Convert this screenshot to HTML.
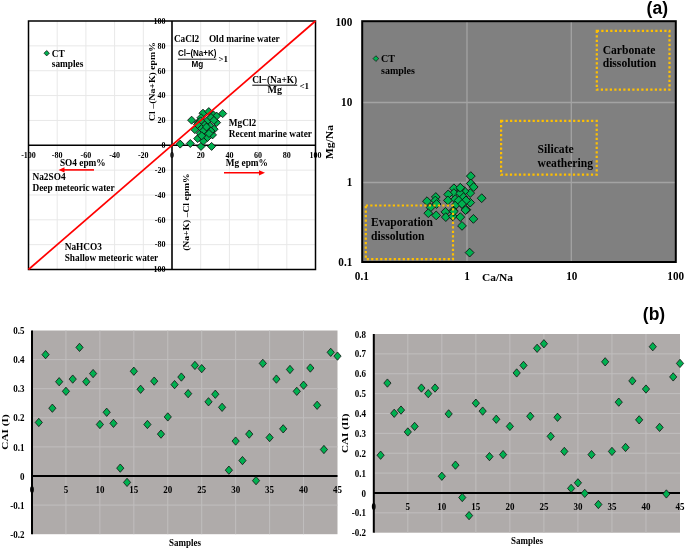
<!DOCTYPE html>
<html><head><meta charset="utf-8"><title>Figure</title>
<style>
html,body{margin:0;padding:0;background:#fff;}
body{width:685px;height:549px;overflow:hidden;}
svg{display:block;filter:blur(0.3px);}
text{font-family:'Liberation Serif',serif;}
</style></head>
<body>
<svg width="685" height="549" viewBox="0 0 685 549">
<rect x="0" y="0" width="685" height="549" fill="#fff"/>
<line x1="57.2" y1="21.0" x2="57.2" y2="269.5" stroke="#e8e8e8" stroke-width="1"/>
<line x1="28.5" y1="244.66" x2="315.5" y2="244.66" stroke="#e8e8e8" stroke-width="1"/>
<line x1="85.9" y1="21.0" x2="85.9" y2="269.5" stroke="#e8e8e8" stroke-width="1"/>
<line x1="28.5" y1="219.82" x2="315.5" y2="219.82" stroke="#e8e8e8" stroke-width="1"/>
<line x1="114.6" y1="21.0" x2="114.6" y2="269.5" stroke="#e8e8e8" stroke-width="1"/>
<line x1="28.5" y1="194.98" x2="315.5" y2="194.98" stroke="#e8e8e8" stroke-width="1"/>
<line x1="143.3" y1="21.0" x2="143.3" y2="269.5" stroke="#e8e8e8" stroke-width="1"/>
<line x1="28.5" y1="170.14" x2="315.5" y2="170.14" stroke="#e8e8e8" stroke-width="1"/>
<line x1="200.7" y1="21.0" x2="200.7" y2="269.5" stroke="#e8e8e8" stroke-width="1"/>
<line x1="28.5" y1="120.44" x2="315.5" y2="120.44" stroke="#e8e8e8" stroke-width="1"/>
<line x1="229.4" y1="21.0" x2="229.4" y2="269.5" stroke="#e8e8e8" stroke-width="1"/>
<line x1="28.5" y1="95.58" x2="315.5" y2="95.58" stroke="#e8e8e8" stroke-width="1"/>
<line x1="258.1" y1="21.0" x2="258.1" y2="269.5" stroke="#e8e8e8" stroke-width="1"/>
<line x1="28.5" y1="70.72" x2="315.5" y2="70.72" stroke="#e8e8e8" stroke-width="1"/>
<line x1="286.8" y1="21.0" x2="286.8" y2="269.5" stroke="#e8e8e8" stroke-width="1"/>
<line x1="28.5" y1="45.86" x2="315.5" y2="45.86" stroke="#e8e8e8" stroke-width="1"/>
<rect x="28.5" y="21.0" width="287.0" height="248.5" fill="none" stroke="#000" stroke-width="1.5"/>
<line x1="172.0" y1="21.0" x2="172.0" y2="269.5" stroke="#000" stroke-width="1.6"/>
<line x1="28.5" y1="145.3" x2="315.5" y2="145.3" stroke="#000" stroke-width="1.6"/>
<text x="165.5" y="23.8" font-size="8" text-anchor="end" fill="#000" style="font-family:'Liberation Serif',serif;font-weight:bold">100</text>
<text x="165.5" y="48.66" font-size="8" text-anchor="end" fill="#000" style="font-family:'Liberation Serif',serif;font-weight:bold">80</text>
<text x="165.5" y="73.52" font-size="8" text-anchor="end" fill="#000" style="font-family:'Liberation Serif',serif;font-weight:bold">60</text>
<text x="165.5" y="98.38" font-size="8" text-anchor="end" fill="#000" style="font-family:'Liberation Serif',serif;font-weight:bold">40</text>
<text x="165.5" y="123.24" font-size="8" text-anchor="end" fill="#000" style="font-family:'Liberation Serif',serif;font-weight:bold">20</text>
<text x="165.5" y="148.1" font-size="8" text-anchor="end" fill="#000" style="font-family:'Liberation Serif',serif;font-weight:bold">0</text>
<text x="165.5" y="172.94" font-size="8" text-anchor="end" fill="#000" style="font-family:'Liberation Serif',serif;font-weight:bold">-20</text>
<text x="165.5" y="197.78" font-size="8" text-anchor="end" fill="#000" style="font-family:'Liberation Serif',serif;font-weight:bold">-40</text>
<text x="165.5" y="222.62" font-size="8" text-anchor="end" fill="#000" style="font-family:'Liberation Serif',serif;font-weight:bold">-60</text>
<text x="165.5" y="247.46" font-size="8" text-anchor="end" fill="#000" style="font-family:'Liberation Serif',serif;font-weight:bold">-80</text>
<text x="165.5" y="272.3" font-size="8" text-anchor="end" fill="#000" style="font-family:'Liberation Serif',serif;font-weight:bold">-100</text>
<text x="28.5" y="157.6" font-size="8" text-anchor="middle" fill="#000" style="font-family:'Liberation Serif',serif;font-weight:bold">-100</text>
<text x="57.2" y="157.6" font-size="8" text-anchor="middle" fill="#000" style="font-family:'Liberation Serif',serif;font-weight:bold">-80</text>
<text x="85.9" y="157.6" font-size="8" text-anchor="middle" fill="#000" style="font-family:'Liberation Serif',serif;font-weight:bold">-60</text>
<text x="114.6" y="157.6" font-size="8" text-anchor="middle" fill="#000" style="font-family:'Liberation Serif',serif;font-weight:bold">-40</text>
<text x="143.3" y="157.6" font-size="8" text-anchor="middle" fill="#000" style="font-family:'Liberation Serif',serif;font-weight:bold">-20</text>
<text x="172" y="157.6" font-size="8" text-anchor="middle" fill="#000" style="font-family:'Liberation Serif',serif;font-weight:bold">0</text>
<text x="200.7" y="157.6" font-size="8" text-anchor="middle" fill="#000" style="font-family:'Liberation Serif',serif;font-weight:bold">20</text>
<text x="229.4" y="157.6" font-size="8" text-anchor="middle" fill="#000" style="font-family:'Liberation Serif',serif;font-weight:bold">40</text>
<text x="258.1" y="157.6" font-size="8" text-anchor="middle" fill="#000" style="font-family:'Liberation Serif',serif;font-weight:bold">60</text>
<text x="286.8" y="157.6" font-size="8" text-anchor="middle" fill="#000" style="font-family:'Liberation Serif',serif;font-weight:bold">80</text>
<text x="315.5" y="157.6" font-size="8" text-anchor="middle" fill="#000" style="font-family:'Liberation Serif',serif;font-weight:bold">100</text>
<polygon points="191.6,116.2 195.6,120.2 191.6,124.2 187.6,120.2" fill="#00b050" stroke="#111" stroke-width="0.9"/>
<polygon points="190.3,139.5 194.3,143.5 190.3,147.5 186.3,143.5" fill="#00b050" stroke="#111" stroke-width="0.9"/>
<polygon points="201,142.4 205,146.4 201,150.4 197,146.4" fill="#00b050" stroke="#111" stroke-width="0.9"/>
<polygon points="211.6,142.4 215.6,146.4 211.6,150.4 207.6,146.4" fill="#00b050" stroke="#111" stroke-width="0.9"/>
<polygon points="203.4,137.1 207.4,141.1 203.4,145.1 199.4,141.1" fill="#00b050" stroke="#111" stroke-width="0.9"/>
<polygon points="197.7,134.6 201.7,138.6 197.7,142.6 193.7,138.6" fill="#00b050" stroke="#111" stroke-width="0.9"/>
<polygon points="194.8,125.6 198.8,129.6 194.8,133.6 190.8,129.6" fill="#00b050" stroke="#111" stroke-width="0.9"/>
<polygon points="200.2,129.3 204.2,133.3 200.2,137.3 196.2,133.3" fill="#00b050" stroke="#111" stroke-width="0.9"/>
<polygon points="205.9,130.1 209.9,134.1 205.9,138.1 201.9,134.1" fill="#00b050" stroke="#111" stroke-width="0.9"/>
<polygon points="212.5,130.9 216.5,134.9 212.5,138.9 208.5,134.9" fill="#00b050" stroke="#111" stroke-width="0.9"/>
<polygon points="214.1,125.2 218.1,129.2 214.1,133.2 210.1,129.2" fill="#00b050" stroke="#111" stroke-width="0.9"/>
<polygon points="209.6,121.5 213.6,125.5 209.6,129.5 205.6,125.5" fill="#00b050" stroke="#111" stroke-width="0.9"/>
<polygon points="204.7,120.7 208.7,124.7 204.7,128.7 200.7,124.7" fill="#00b050" stroke="#111" stroke-width="0.9"/>
<polygon points="201.4,124.4 205.4,128.4 201.4,132.4 197.4,128.4" fill="#00b050" stroke="#111" stroke-width="0.9"/>
<polygon points="208,116.2 212,120.2 208,124.2 204,120.2" fill="#00b050" stroke="#111" stroke-width="0.9"/>
<polygon points="216.6,118.6 220.6,122.6 216.6,126.6 212.6,122.6" fill="#00b050" stroke="#111" stroke-width="0.9"/>
<polygon points="213.3,110.8 217.3,114.8 213.3,118.8 209.3,114.8" fill="#00b050" stroke="#111" stroke-width="0.9"/>
<polygon points="222.7,109.6 226.7,113.6 222.7,117.6 218.7,113.6" fill="#00b050" stroke="#111" stroke-width="0.9"/>
<polygon points="203,109.2 207,113.2 203,117.2 199,113.2" fill="#00b050" stroke="#111" stroke-width="0.9"/>
<polygon points="208.8,107.6 212.8,111.6 208.8,115.6 204.8,111.6" fill="#00b050" stroke="#111" stroke-width="0.9"/>
<polygon points="216.6,112.1 220.6,116.1 216.6,120.1 212.6,116.1" fill="#00b050" stroke="#111" stroke-width="0.9"/>
<polygon points="201,113.7 205,117.7 201,121.7 197,117.7" fill="#00b050" stroke="#111" stroke-width="0.9"/>
<polygon points="206.3,125.6 210.3,129.6 206.3,133.6 202.3,129.6" fill="#00b050" stroke="#111" stroke-width="0.9"/>
<polygon points="180.2,140.1 184.2,144.1 180.2,148.1 176.2,144.1" fill="#00b050" stroke="#111" stroke-width="0.9"/>
<polygon points="210.9,127 214.9,131 210.9,135 206.9,131" fill="#00b050" stroke="#111" stroke-width="0.9"/>
<polygon points="207.5,133.5 211.5,137.5 207.5,141.5 203.5,137.5" fill="#00b050" stroke="#111" stroke-width="0.9"/>
<polygon points="198,118.5 202,122.5 198,126.5 194,122.5" fill="#00b050" stroke="#111" stroke-width="0.9"/>
<polygon points="211,113.5 215,117.5 211,121.5 207,117.5" fill="#00b050" stroke="#111" stroke-width="0.9"/>
<polygon points="200.6,116.9 204.6,120.9 200.6,124.9 196.6,120.9" fill="#00b050" stroke="#111" stroke-width="0.9"/>
<polygon points="213.9,116.4 217.9,120.4 213.9,124.4 209.9,120.4" fill="#00b050" stroke="#111" stroke-width="0.9"/>
<polygon points="203.7,126.6 207.7,130.6 203.7,134.6 199.7,130.6" fill="#00b050" stroke="#111" stroke-width="0.9"/>
<polygon points="201.7,131.8 205.7,135.8 201.7,139.8 197.7,135.8" fill="#00b050" stroke="#111" stroke-width="0.9"/>
<polygon points="197.6,120.5 201.6,124.5 197.6,128.5 193.6,124.5" fill="#00b050" stroke="#111" stroke-width="0.9"/>
<polygon points="206.5,123 210.5,127 206.5,131 202.5,127" fill="#00b050" stroke="#111" stroke-width="0.9"/>
<polygon points="209,129.5 213,133.5 209,137.5 205,133.5" fill="#00b050" stroke="#111" stroke-width="0.9"/>
<line x1="28.5" y1="269.5" x2="315.5" y2="21.0" stroke="#ff0000" stroke-width="1.7"/>
<polygon points="46.7,50.5 49.4,53.2 46.7,55.9 44,53.2" fill="#00b050" stroke="#1a1a1a" stroke-width="0.8"/>
<text x="51.8" y="56.6" font-size="9.3" text-anchor="start" fill="#000" style="font-family:'Liberation Serif',serif;font-weight:bold">CT</text>
<text x="51.8" y="66.8" font-size="9.3" text-anchor="start" fill="#000" style="font-family:'Liberation Serif',serif;font-weight:bold">samples</text>
<text x="173.9" y="42" font-size="9.3" text-anchor="start" fill="#000" style="font-family:'Liberation Serif',serif;font-weight:bold">CaCl2</text>
<text x="208.9" y="42" font-size="9.3" text-anchor="start" fill="#000" style="font-family:'Liberation Serif',serif;font-weight:bold">Old marine water</text>
<text x="197.2" y="56.2" font-size="8.2" text-anchor="middle" fill="#000" style="font-family:'Liberation Sans',sans-serif;font-weight:bold" textLength="38.5" lengthAdjust="spacingAndGlyphs">Cl–(Na+K)</text>
<line x1="177.9" y1="59.2" x2="216.4" y2="59.2" stroke="#000" stroke-width="0.9"/>
<text x="197.4" y="66.6" font-size="8.2" text-anchor="middle" fill="#000" style="font-family:'Liberation Sans',sans-serif;font-weight:bold">Mg</text>
<text x="218.4" y="62" font-size="9" text-anchor="start" fill="#000" style="font-family:'Liberation Serif',serif;font-weight:bold">&gt;1</text>
<text x="274.7" y="82.9" font-size="10" text-anchor="middle" fill="#000" style="font-family:'Liberation Serif',serif;font-weight:bold" textLength="45" lengthAdjust="spacingAndGlyphs">Cl−(Na+K)</text>
<line x1="252.3" y1="85.2" x2="297.2" y2="85.2" stroke="#000" stroke-width="1"/>
<text x="274.7" y="93.2" font-size="10" text-anchor="middle" fill="#000" style="font-family:'Liberation Serif',serif;font-weight:bold">Mg</text>
<text x="299.4" y="89" font-size="9" text-anchor="start" fill="#000" style="font-family:'Liberation Serif',serif;font-weight:bold">&lt;1</text>
<text x="228.8" y="126.4" font-size="9.3" text-anchor="start" fill="#000" style="font-family:'Liberation Serif',serif;font-weight:bold">MgCl2</text>
<text x="228.8" y="137.4" font-size="9.3" text-anchor="start" fill="#000" style="font-family:'Liberation Serif',serif;font-weight:bold">Recent marine water</text>
<text x="59.9" y="165.7" font-size="9.3" text-anchor="start" fill="#000" style="font-family:'Liberation Serif',serif;font-weight:bold">SO4 epm%</text>
<text x="225.8" y="166" font-size="9.3" text-anchor="start" fill="#000" style="font-family:'Liberation Serif',serif;font-weight:bold">Mg epm%</text>
<line x1="94" y1="169.9" x2="63" y2="169.9" stroke="#ff0000" stroke-width="1.6"/>
<polygon points="58.5,169.9 64.5,167.3 64.5,172.5" fill="#ff0000"/>
<line x1="224" y1="172.8" x2="260" y2="172.8" stroke="#ff0000" stroke-width="1.6"/>
<polygon points="265,172.8 259,170.2 259,175.4" fill="#ff0000"/>
<text x="32.5" y="179.8" font-size="9.3" text-anchor="start" fill="#000" style="font-family:'Liberation Serif',serif;font-weight:bold">Na2SO4</text>
<text x="32.5" y="191" font-size="9.3" text-anchor="start" fill="#000" style="font-family:'Liberation Serif',serif;font-weight:bold">Deep meteoric water</text>
<text x="64.7" y="250.2" font-size="9.3" text-anchor="start" fill="#000" style="font-family:'Liberation Serif',serif;font-weight:bold">NaHCO3</text>
<text x="64.7" y="260.7" font-size="9.3" text-anchor="start" fill="#000" style="font-family:'Liberation Serif',serif;font-weight:bold">Shallow meteoric water</text>
<text transform="translate(154.8,81.5) rotate(-90) scale(1.18,1)" font-size="8.3" text-anchor="middle" style="font-family:'Liberation Serif',serif;font-weight:bold">Cl –(Na+K) epm%</text>
<text transform="translate(188.6,212.1) rotate(-90) scale(1.16,1)" font-size="8.3" text-anchor="middle" style="font-family:'Liberation Serif',serif;font-weight:bold">(Na+K) –Cl epm%</text>
<rect x="362.2" y="21.2" width="313.6" height="240.8" fill="#808080"/>
<line x1="467.0" y1="22" x2="467.0" y2="261.5" stroke="#a3a3a3" stroke-width="1.3"/>
<line x1="571.3" y1="22" x2="571.3" y2="261.5" stroke="#a3a3a3" stroke-width="1.3"/>
<line x1="363" y1="102.5" x2="675" y2="102.5" stroke="#a3a3a3" stroke-width="1.3"/>
<line x1="363" y1="182.5" x2="675" y2="182.5" stroke="#a3a3a3" stroke-width="1.3"/>
<polygon points="470.8,171.7 475.2,176.1 470.8,180.5 466.4,176.1" fill="#00b050" stroke="#111" stroke-width="0.9"/>
<polygon points="470.8,179.1 475.2,183.5 470.8,187.9 466.4,183.5" fill="#00b050" stroke="#111" stroke-width="0.9"/>
<polygon points="473.7,182.6 478.1,187 473.7,191.4 469.3,187" fill="#00b050" stroke="#111" stroke-width="0.9"/>
<polygon points="481.7,193.8 486.1,198.2 481.7,202.6 477.3,198.2" fill="#00b050" stroke="#111" stroke-width="0.9"/>
<polygon points="470.2,188.7 474.6,193.1 470.2,197.5 465.8,193.1" fill="#00b050" stroke="#111" stroke-width="0.9"/>
<polygon points="464.5,186.8 468.9,191.2 464.5,195.6 460.1,191.2" fill="#00b050" stroke="#111" stroke-width="0.9"/>
<polygon points="460,184.5 464.4,188.9 460,193.3 455.6,188.9" fill="#00b050" stroke="#111" stroke-width="0.9"/>
<polygon points="453.9,183.9 458.3,188.3 453.9,192.7 449.5,188.3" fill="#00b050" stroke="#111" stroke-width="0.9"/>
<polygon points="453.9,188.7 458.3,193.1 453.9,197.5 449.5,193.1" fill="#00b050" stroke="#111" stroke-width="0.9"/>
<polygon points="448.2,190 452.6,194.4 448.2,198.8 443.8,194.4" fill="#00b050" stroke="#111" stroke-width="0.9"/>
<polygon points="447.9,196 452.3,200.4 447.9,204.8 443.5,200.4" fill="#00b050" stroke="#111" stroke-width="0.9"/>
<polygon points="455.2,194.7 459.6,199.1 455.2,203.5 450.8,199.1" fill="#00b050" stroke="#111" stroke-width="0.9"/>
<polygon points="460.3,189 464.7,193.4 460.3,197.8 455.9,193.4" fill="#00b050" stroke="#111" stroke-width="0.9"/>
<polygon points="463.5,192.8 467.9,197.2 463.5,201.6 459.1,197.2" fill="#00b050" stroke="#111" stroke-width="0.9"/>
<polygon points="470.2,198.2 474.6,202.6 470.2,207 465.8,202.6" fill="#00b050" stroke="#111" stroke-width="0.9"/>
<polygon points="461.9,199.5 466.3,203.9 461.9,208.3 457.5,203.9" fill="#00b050" stroke="#111" stroke-width="0.9"/>
<polygon points="466.4,205.3 470.8,209.7 466.4,214.1 462,209.7" fill="#00b050" stroke="#111" stroke-width="0.9"/>
<polygon points="456.2,200.2 460.6,204.6 456.2,209 451.8,204.6" fill="#00b050" stroke="#111" stroke-width="0.9"/>
<polygon points="458.7,196 463.1,200.4 458.7,204.8 454.3,200.4" fill="#00b050" stroke="#111" stroke-width="0.9"/>
<polygon points="466,196 470.4,200.4 466,204.8 461.6,200.4" fill="#00b050" stroke="#111" stroke-width="0.9"/>
<polygon points="453.3,206.2 457.7,210.6 453.3,215 448.9,210.6" fill="#00b050" stroke="#111" stroke-width="0.9"/>
<polygon points="460.3,183.3 464.7,187.7 460.3,192.1 455.9,187.7" fill="#00b050" stroke="#111" stroke-width="0.9"/>
<polygon points="427,196.8 431.4,201.2 427,205.6 422.6,201.2" fill="#00b050" stroke="#111" stroke-width="0.9"/>
<polygon points="435.8,192.6 440.2,197 435.8,201.4 431.4,197" fill="#00b050" stroke="#111" stroke-width="0.9"/>
<polygon points="435.3,196.1 439.7,200.5 435.3,204.9 430.9,200.5" fill="#00b050" stroke="#111" stroke-width="0.9"/>
<polygon points="436.6,199.6 441,204 436.6,208.4 432.2,204" fill="#00b050" stroke="#111" stroke-width="0.9"/>
<polygon points="430.5,203.1 434.9,207.5 430.5,211.9 426.1,207.5" fill="#00b050" stroke="#111" stroke-width="0.9"/>
<polygon points="428.3,208.8 432.7,213.2 428.3,217.6 423.9,213.2" fill="#00b050" stroke="#111" stroke-width="0.9"/>
<polygon points="436.2,211 440.6,215.4 436.2,219.8 431.8,215.4" fill="#00b050" stroke="#111" stroke-width="0.9"/>
<polygon points="445.4,207.5 449.8,211.9 445.4,216.3 441,211.9" fill="#00b050" stroke="#111" stroke-width="0.9"/>
<polygon points="445.8,212.7 450.2,217.1 445.8,221.5 441.4,217.1" fill="#00b050" stroke="#111" stroke-width="0.9"/>
<polygon points="452.8,211.9 457.2,216.3 452.8,220.7 448.4,216.3" fill="#00b050" stroke="#111" stroke-width="0.9"/>
<polygon points="453.7,207.1 458.1,211.5 453.7,215.9 449.3,211.5" fill="#00b050" stroke="#111" stroke-width="0.9"/>
<polygon points="460.3,212.7 464.7,217.1 460.3,221.5 455.9,217.1" fill="#00b050" stroke="#111" stroke-width="0.9"/>
<polygon points="462,221.5 466.4,225.9 462,230.3 457.6,225.9" fill="#00b050" stroke="#111" stroke-width="0.9"/>
<polygon points="473.4,214.5 477.8,218.9 473.4,223.3 469,218.9" fill="#00b050" stroke="#111" stroke-width="0.9"/>
<polygon points="465.5,205.7 469.9,210.1 465.5,214.5 461.1,210.1" fill="#00b050" stroke="#111" stroke-width="0.9"/>
<polygon points="462,199.6 466.4,204 462,208.4 457.6,204" fill="#00b050" stroke="#111" stroke-width="0.9"/>
<polygon points="469.6,248.2 474,252.6 469.6,257 465.2,252.6" fill="#00b050" stroke="#111" stroke-width="0.9"/>
<rect x="596.8" y="30.9" width="72.7" height="58.8" fill="none" stroke="#ffc000" stroke-width="2.2" stroke-dasharray="2.2 2.3"/>
<rect x="501.1" y="120.9" width="95.6" height="53.8" fill="none" stroke="#ffc000" stroke-width="2.2" stroke-dasharray="2.2 2.3"/>
<rect x="365.8" y="205.5" width="87.2" height="53.7" fill="none" stroke="#ffc000" stroke-width="2.2" stroke-dasharray="2.2 2.3"/>
<rect x="362.2" y="21.2" width="313.6" height="240.8" fill="none" stroke="#000" stroke-width="2"/>
<text x="602.7" y="53.8" font-size="11.6" text-anchor="start" fill="#000" style="font-family:'Liberation Serif',serif;font-weight:bold" fill="#111">Carbonate</text>
<text x="602.7" y="67.3" font-size="11.6" text-anchor="start" fill="#000" style="font-family:'Liberation Serif',serif;font-weight:bold">dissolution</text>
<text x="537.6" y="153" font-size="11.6" text-anchor="start" fill="#000" style="font-family:'Liberation Serif',serif;font-weight:bold">Silicate</text>
<text x="537.6" y="166.7" font-size="11.6" text-anchor="start" fill="#000" style="font-family:'Liberation Serif',serif;font-weight:bold">weathering</text>
<text x="371" y="226.4" font-size="11.6" text-anchor="start" fill="#000" style="font-family:'Liberation Serif',serif;font-weight:bold">Evaporation</text>
<text x="371" y="239.5" font-size="11.6" text-anchor="start" fill="#000" style="font-family:'Liberation Serif',serif;font-weight:bold">dissolution</text>
<polygon points="375.9,55.75 378.75,58.6 375.9,61.45 373.05,58.6" fill="#00b050" stroke="#1a1a1a" stroke-width="0.8"/>
<text x="381" y="61.8" font-size="10" text-anchor="start" fill="#000" style="font-family:'Liberation Serif',serif;font-weight:bold">CT</text>
<text x="381" y="73.5" font-size="10" text-anchor="start" fill="#000" style="font-family:'Liberation Serif',serif;font-weight:bold">samples</text>
<text transform="translate(352.3,26.4) scale(1,1.1)" font-size="11.2" text-anchor="end" style="font-family:'Liberation Serif',serif;font-weight:bold">100</text>
<text transform="translate(352.3,106.4) scale(1,1.1)" font-size="11.2" text-anchor="end" style="font-family:'Liberation Serif',serif;font-weight:bold">10</text>
<text transform="translate(352.3,186.4) scale(1,1.1)" font-size="11.2" text-anchor="end" style="font-family:'Liberation Serif',serif;font-weight:bold">1</text>
<text transform="translate(352.3,266.2) scale(1,1.1)" font-size="11.2" text-anchor="end" style="font-family:'Liberation Serif',serif;font-weight:bold">0.1</text>
<text transform="translate(361.8,280.1) scale(1,1.1)" font-size="11.2" text-anchor="middle" style="font-family:'Liberation Serif',serif;font-weight:bold">0.1</text>
<text transform="translate(467.0,280.1) scale(1,1.1)" font-size="11.2" text-anchor="middle" style="font-family:'Liberation Serif',serif;font-weight:bold">1</text>
<text transform="translate(571.8,280.1) scale(1,1.1)" font-size="11.2" text-anchor="middle" style="font-family:'Liberation Serif',serif;font-weight:bold">10</text>
<text transform="translate(675.7,280.1) scale(1,1.1)" font-size="11.2" text-anchor="middle" style="font-family:'Liberation Serif',serif;font-weight:bold">100</text>
<text x="482" y="281.4" font-size="11.4" text-anchor="start" fill="#000" style="font-family:'Liberation Serif',serif;font-weight:bold">Ca/Na</text>
<text transform="translate(333.0,142.2) rotate(-90) scale(1.08,1)" font-size="10.8" text-anchor="middle" style="font-family:'Liberation Serif',serif;font-weight:bold">Mg/Na</text>
<text x="657.3" y="13.5" font-size="17.5" text-anchor="middle" style="font-family:'Liberation Sans',sans-serif;font-weight:bold">(a)</text>
<rect x="32" y="330.5" width="305.5" height="203.7" fill="#afabaa"/>
<line x1="65.94" y1="330.5" x2="65.94" y2="534.2" stroke="#c0bebe" stroke-width="1"/>
<line x1="99.89" y1="330.5" x2="99.89" y2="534.2" stroke="#c0bebe" stroke-width="1"/>
<line x1="133.83" y1="330.5" x2="133.83" y2="534.2" stroke="#c0bebe" stroke-width="1"/>
<line x1="167.78" y1="330.5" x2="167.78" y2="534.2" stroke="#c0bebe" stroke-width="1"/>
<line x1="201.72" y1="330.5" x2="201.72" y2="534.2" stroke="#c0bebe" stroke-width="1"/>
<line x1="235.67" y1="330.5" x2="235.67" y2="534.2" stroke="#c0bebe" stroke-width="1"/>
<line x1="269.61" y1="330.5" x2="269.61" y2="534.2" stroke="#c0bebe" stroke-width="1"/>
<line x1="303.56" y1="330.5" x2="303.56" y2="534.2" stroke="#c0bebe" stroke-width="1"/>
<line x1="32" y1="505.1" x2="337.5" y2="505.1" stroke="#c0bebe" stroke-width="1"/>
<line x1="32" y1="446.9" x2="337.5" y2="446.9" stroke="#c0bebe" stroke-width="1"/>
<line x1="32" y1="417.8" x2="337.5" y2="417.8" stroke="#c0bebe" stroke-width="1"/>
<line x1="32" y1="388.7" x2="337.5" y2="388.7" stroke="#c0bebe" stroke-width="1"/>
<line x1="32" y1="359.6" x2="337.5" y2="359.6" stroke="#c0bebe" stroke-width="1"/>
<line x1="32" y1="476" x2="337.5" y2="476" stroke="#000" stroke-width="2"/>
<line x1="32" y1="330.5" x2="32" y2="534.2" stroke="#000" stroke-width="2"/>
<polygon points="38.79,418.31 42.39,422.46 38.79,426.61 35.19,422.46" fill="#00b050" stroke="#111" stroke-width="0.8"/>
<polygon points="45.58,350.5 49.18,354.65 45.58,358.8 41.98,354.65" fill="#00b050" stroke="#111" stroke-width="0.8"/>
<polygon points="52.37,404.05 55.97,408.2 52.37,412.35 48.77,408.2" fill="#00b050" stroke="#111" stroke-width="0.8"/>
<polygon points="59.16,377.57 62.76,381.72 59.16,385.87 55.56,381.72" fill="#00b050" stroke="#111" stroke-width="0.8"/>
<polygon points="65.94,387.17 69.54,391.32 65.94,395.47 62.34,391.32" fill="#00b050" stroke="#111" stroke-width="0.8"/>
<polygon points="72.73,374.95 76.33,379.1 72.73,383.25 69.13,379.1" fill="#00b050" stroke="#111" stroke-width="0.8"/>
<polygon points="79.52,343.23 83.12,347.38 79.52,351.53 75.92,347.38" fill="#00b050" stroke="#111" stroke-width="0.8"/>
<polygon points="86.31,377.57 89.91,381.72 86.31,385.87 82.71,381.72" fill="#00b050" stroke="#111" stroke-width="0.8"/>
<polygon points="93.1,369.42 96.7,373.57 93.1,377.72 89.5,373.57" fill="#00b050" stroke="#111" stroke-width="0.8"/>
<polygon points="99.89,420.34 103.49,424.49 99.89,428.64 96.29,424.49" fill="#00b050" stroke="#111" stroke-width="0.8"/>
<polygon points="106.68,408.12 110.28,412.27 106.68,416.42 103.08,412.27" fill="#00b050" stroke="#111" stroke-width="0.8"/>
<polygon points="113.47,419.18 117.07,423.33 113.47,427.48 109.87,423.33" fill="#00b050" stroke="#111" stroke-width="0.8"/>
<polygon points="120.26,463.99 123.86,468.14 120.26,472.29 116.66,468.14" fill="#00b050" stroke="#111" stroke-width="0.8"/>
<polygon points="127.04,478.25 130.64,482.4 127.04,486.55 123.44,482.4" fill="#00b050" stroke="#111" stroke-width="0.8"/>
<polygon points="133.83,367.09 137.43,371.24 133.83,375.39 130.23,371.24" fill="#00b050" stroke="#111" stroke-width="0.8"/>
<polygon points="140.62,385.13 144.22,389.28 140.62,393.43 137.02,389.28" fill="#00b050" stroke="#111" stroke-width="0.8"/>
<polygon points="147.41,420.34 151.01,424.49 147.41,428.64 143.81,424.49" fill="#00b050" stroke="#111" stroke-width="0.8"/>
<polygon points="154.2,376.98 157.8,381.13 154.2,385.28 150.6,381.13" fill="#00b050" stroke="#111" stroke-width="0.8"/>
<polygon points="160.99,429.95 164.59,434.1 160.99,438.25 157.39,434.1" fill="#00b050" stroke="#111" stroke-width="0.8"/>
<polygon points="167.78,412.78 171.38,416.93 167.78,421.08 164.18,416.93" fill="#00b050" stroke="#111" stroke-width="0.8"/>
<polygon points="174.57,380.48 178.17,384.63 174.57,388.78 170.97,384.63" fill="#00b050" stroke="#111" stroke-width="0.8"/>
<polygon points="181.36,372.91 184.96,377.06 181.36,381.21 177.76,377.06" fill="#00b050" stroke="#111" stroke-width="0.8"/>
<polygon points="188.14,389.5 191.74,393.65 188.14,397.8 184.54,393.65" fill="#00b050" stroke="#111" stroke-width="0.8"/>
<polygon points="194.93,361.27 198.53,365.42 194.93,369.57 191.33,365.42" fill="#00b050" stroke="#111" stroke-width="0.8"/>
<polygon points="201.72,364.47 205.32,368.62 201.72,372.77 198.12,368.62" fill="#00b050" stroke="#111" stroke-width="0.8"/>
<polygon points="208.51,397.65 212.11,401.8 208.51,405.94 204.91,401.8" fill="#00b050" stroke="#111" stroke-width="0.8"/>
<polygon points="215.3,390.08 218.9,394.23 215.3,398.38 211.7,394.23" fill="#00b050" stroke="#111" stroke-width="0.8"/>
<polygon points="222.09,403.17 225.69,407.32 222.09,411.47 218.49,407.32" fill="#00b050" stroke="#111" stroke-width="0.8"/>
<polygon points="228.88,466.03 232.48,470.18 228.88,474.33 225.28,470.18" fill="#00b050" stroke="#111" stroke-width="0.8"/>
<polygon points="235.67,436.93 239.27,441.08 235.67,445.23 232.07,441.08" fill="#00b050" stroke="#111" stroke-width="0.8"/>
<polygon points="242.46,456.43 246.06,460.58 242.46,464.73 238.86,460.58" fill="#00b050" stroke="#111" stroke-width="0.8"/>
<polygon points="249.24,429.95 252.84,434.1 249.24,438.25 245.64,434.1" fill="#00b050" stroke="#111" stroke-width="0.8"/>
<polygon points="256.03,476.51 259.63,480.66 256.03,484.81 252.43,480.66" fill="#00b050" stroke="#111" stroke-width="0.8"/>
<polygon points="262.82,359.23 266.42,363.38 262.82,367.53 259.22,363.38" fill="#00b050" stroke="#111" stroke-width="0.8"/>
<polygon points="269.61,433.44 273.21,437.59 269.61,441.74 266.01,437.59" fill="#00b050" stroke="#111" stroke-width="0.8"/>
<polygon points="276.4,374.95 280,379.1 276.4,383.25 272.8,379.1" fill="#00b050" stroke="#111" stroke-width="0.8"/>
<polygon points="283.19,424.71 286.79,428.86 283.19,433.01 279.59,428.86" fill="#00b050" stroke="#111" stroke-width="0.8"/>
<polygon points="289.98,365.34 293.58,369.49 289.98,373.64 286.38,369.49" fill="#00b050" stroke="#111" stroke-width="0.8"/>
<polygon points="296.77,387.17 300.37,391.32 296.77,395.47 293.17,391.32" fill="#00b050" stroke="#111" stroke-width="0.8"/>
<polygon points="303.56,381.06 307.16,385.21 303.56,389.36 299.96,385.21" fill="#00b050" stroke="#111" stroke-width="0.8"/>
<polygon points="310.34,363.89 313.94,368.04 310.34,372.19 306.74,368.04" fill="#00b050" stroke="#111" stroke-width="0.8"/>
<polygon points="317.13,401.14 320.73,405.29 317.13,409.44 313.53,405.29" fill="#00b050" stroke="#111" stroke-width="0.8"/>
<polygon points="323.92,445.37 327.52,449.52 323.92,453.67 320.32,449.52" fill="#00b050" stroke="#111" stroke-width="0.8"/>
<polygon points="330.71,348.18 334.31,352.32 330.71,356.47 327.11,352.32" fill="#00b050" stroke="#111" stroke-width="0.8"/>
<polygon points="337.5,351.96 341.1,356.11 337.5,360.26 333.9,356.11" fill="#00b050" stroke="#111" stroke-width="0.8"/>
<text transform="translate(24.5,334.1) scale(1,1.2)" font-size="9" text-anchor="end" style="font-family:'Liberation Serif',serif;font-weight:bold">0.5</text>
<text transform="translate(24.5,363.2) scale(1,1.2)" font-size="9" text-anchor="end" style="font-family:'Liberation Serif',serif;font-weight:bold">0.4</text>
<text transform="translate(24.5,392.3) scale(1,1.2)" font-size="9" text-anchor="end" style="font-family:'Liberation Serif',serif;font-weight:bold">0.3</text>
<text transform="translate(24.5,421.4) scale(1,1.2)" font-size="9" text-anchor="end" style="font-family:'Liberation Serif',serif;font-weight:bold">0.2</text>
<text transform="translate(24.5,450.5) scale(1,1.2)" font-size="9" text-anchor="end" style="font-family:'Liberation Serif',serif;font-weight:bold">0.1</text>
<text transform="translate(24.5,479.6) scale(1,1.2)" font-size="9" text-anchor="end" style="font-family:'Liberation Serif',serif;font-weight:bold">0</text>
<text transform="translate(24.5,508.7) scale(1,1.2)" font-size="9" text-anchor="end" style="font-family:'Liberation Serif',serif;font-weight:bold">-0.1</text>
<text transform="translate(24.5,537.8) scale(1,1.2)" font-size="9" text-anchor="end" style="font-family:'Liberation Serif',serif;font-weight:bold">-0.2</text>
<text transform="translate(32,492.8) scale(1,1.2)" font-size="9" text-anchor="middle" style="font-family:'Liberation Serif',serif;font-weight:bold">0</text>
<text transform="translate(65.94,492.8) scale(1,1.2)" font-size="9" text-anchor="middle" style="font-family:'Liberation Serif',serif;font-weight:bold">5</text>
<text transform="translate(99.89,492.8) scale(1,1.2)" font-size="9" text-anchor="middle" style="font-family:'Liberation Serif',serif;font-weight:bold">10</text>
<text transform="translate(133.83,492.8) scale(1,1.2)" font-size="9" text-anchor="middle" style="font-family:'Liberation Serif',serif;font-weight:bold">15</text>
<text transform="translate(167.78,492.8) scale(1,1.2)" font-size="9" text-anchor="middle" style="font-family:'Liberation Serif',serif;font-weight:bold">20</text>
<text transform="translate(201.72,492.8) scale(1,1.2)" font-size="9" text-anchor="middle" style="font-family:'Liberation Serif',serif;font-weight:bold">25</text>
<text transform="translate(235.67,492.8) scale(1,1.2)" font-size="9" text-anchor="middle" style="font-family:'Liberation Serif',serif;font-weight:bold">30</text>
<text transform="translate(269.61,492.8) scale(1,1.2)" font-size="9" text-anchor="middle" style="font-family:'Liberation Serif',serif;font-weight:bold">35</text>
<text transform="translate(303.56,492.8) scale(1,1.2)" font-size="9" text-anchor="middle" style="font-family:'Liberation Serif',serif;font-weight:bold">40</text>
<text transform="translate(337.5,492.8) scale(1,1.2)" font-size="9" text-anchor="middle" style="font-family:'Liberation Serif',serif;font-weight:bold">45</text>
<text transform="translate(7.6,432) rotate(-90) scale(1.25,1)" font-size="9" text-anchor="middle" style="font-family:'Liberation Serif',serif;font-weight:bold">CAI (I)</text>
<text transform="translate(185,545.7) scale(1,1.2)" font-size="9" text-anchor="middle" style="font-family:'Liberation Serif',serif;font-weight:bold">Samples</text>
<rect x="373.8" y="334" width="306.2" height="198.7" fill="#afabaa"/>
<line x1="407.82" y1="334" x2="407.82" y2="532.7" stroke="#c0bebe" stroke-width="1"/>
<line x1="441.84" y1="334" x2="441.84" y2="532.7" stroke="#c0bebe" stroke-width="1"/>
<line x1="475.87" y1="334" x2="475.87" y2="532.7" stroke="#c0bebe" stroke-width="1"/>
<line x1="509.89" y1="334" x2="509.89" y2="532.7" stroke="#c0bebe" stroke-width="1"/>
<line x1="543.91" y1="334" x2="543.91" y2="532.7" stroke="#c0bebe" stroke-width="1"/>
<line x1="577.93" y1="334" x2="577.93" y2="532.7" stroke="#c0bebe" stroke-width="1"/>
<line x1="611.96" y1="334" x2="611.96" y2="532.7" stroke="#c0bebe" stroke-width="1"/>
<line x1="645.98" y1="334" x2="645.98" y2="532.7" stroke="#c0bebe" stroke-width="1"/>
<line x1="373.8" y1="512.83" x2="680" y2="512.83" stroke="#c0bebe" stroke-width="1"/>
<line x1="373.8" y1="473.09" x2="680" y2="473.09" stroke="#c0bebe" stroke-width="1"/>
<line x1="373.8" y1="453.22" x2="680" y2="453.22" stroke="#c0bebe" stroke-width="1"/>
<line x1="373.8" y1="433.35" x2="680" y2="433.35" stroke="#c0bebe" stroke-width="1"/>
<line x1="373.8" y1="413.48" x2="680" y2="413.48" stroke="#c0bebe" stroke-width="1"/>
<line x1="373.8" y1="393.61" x2="680" y2="393.61" stroke="#c0bebe" stroke-width="1"/>
<line x1="373.8" y1="373.74" x2="680" y2="373.74" stroke="#c0bebe" stroke-width="1"/>
<line x1="373.8" y1="353.87" x2="680" y2="353.87" stroke="#c0bebe" stroke-width="1"/>
<line x1="373.8" y1="492.96" x2="680" y2="492.96" stroke="#000" stroke-width="2"/>
<line x1="373.8" y1="334" x2="373.8" y2="532.7" stroke="#000" stroke-width="2"/>
<polygon points="380.6,451.06 384.2,455.21 380.6,459.36 377,455.21" fill="#00b050" stroke="#111" stroke-width="0.8"/>
<polygon points="387.41,378.93 391.01,383.08 387.41,387.23 383.81,383.08" fill="#00b050" stroke="#111" stroke-width="0.8"/>
<polygon points="394.21,409.13 397.81,413.28 394.21,417.43 390.61,413.28" fill="#00b050" stroke="#111" stroke-width="0.8"/>
<polygon points="401.02,405.95 404.62,410.1 401.02,414.25 397.42,410.1" fill="#00b050" stroke="#111" stroke-width="0.8"/>
<polygon points="407.82,427.81 411.42,431.96 407.82,436.11 404.22,431.96" fill="#00b050" stroke="#111" stroke-width="0.8"/>
<polygon points="414.63,422.25 418.23,426.4 414.63,430.55 411.03,426.4" fill="#00b050" stroke="#111" stroke-width="0.8"/>
<polygon points="421.43,383.9 425.03,388.05 421.43,392.2 417.83,388.05" fill="#00b050" stroke="#111" stroke-width="0.8"/>
<polygon points="428.24,389.46 431.84,393.61 428.24,397.76 424.64,393.61" fill="#00b050" stroke="#111" stroke-width="0.8"/>
<polygon points="435.04,383.9 438.64,388.05 435.04,392.2 431.44,388.05" fill="#00b050" stroke="#111" stroke-width="0.8"/>
<polygon points="441.84,472.12 445.44,476.27 441.84,480.42 438.24,476.27" fill="#00b050" stroke="#111" stroke-width="0.8"/>
<polygon points="448.65,409.73 452.25,413.88 448.65,418.03 445.05,413.88" fill="#00b050" stroke="#111" stroke-width="0.8"/>
<polygon points="455.45,460.99 459.05,465.14 455.45,469.29 451.85,465.14" fill="#00b050" stroke="#111" stroke-width="0.8"/>
<polygon points="462.26,493.38 465.86,497.53 462.26,501.68 458.66,497.53" fill="#00b050" stroke="#111" stroke-width="0.8"/>
<polygon points="469.06,511.46 472.66,515.61 469.06,519.76 465.46,515.61" fill="#00b050" stroke="#111" stroke-width="0.8"/>
<polygon points="475.87,399 479.47,403.15 475.87,407.3 472.27,403.15" fill="#00b050" stroke="#111" stroke-width="0.8"/>
<polygon points="482.67,406.95 486.27,411.1 482.67,415.25 479.07,411.1" fill="#00b050" stroke="#111" stroke-width="0.8"/>
<polygon points="489.48,452.45 493.08,456.6 489.48,460.75 485.88,456.6" fill="#00b050" stroke="#111" stroke-width="0.8"/>
<polygon points="496.28,415.09 499.88,419.24 496.28,423.39 492.68,419.24" fill="#00b050" stroke="#111" stroke-width="0.8"/>
<polygon points="503.08,450.46 506.68,454.61 503.08,458.76 499.48,454.61" fill="#00b050" stroke="#111" stroke-width="0.8"/>
<polygon points="509.89,422.25 513.49,426.4 509.89,430.55 506.29,426.4" fill="#00b050" stroke="#111" stroke-width="0.8"/>
<polygon points="516.69,368.8 520.29,372.95 516.69,377.1 513.09,372.95" fill="#00b050" stroke="#111" stroke-width="0.8"/>
<polygon points="523.5,361.24 527.1,365.39 523.5,369.54 519.9,365.39" fill="#00b050" stroke="#111" stroke-width="0.8"/>
<polygon points="530.3,412.11 533.9,416.26 530.3,420.41 526.7,416.26" fill="#00b050" stroke="#111" stroke-width="0.8"/>
<polygon points="537.11,344.16 540.71,348.31 537.11,352.46 533.51,348.31" fill="#00b050" stroke="#111" stroke-width="0.8"/>
<polygon points="543.91,339.59 547.51,343.74 543.91,347.89 540.31,343.74" fill="#00b050" stroke="#111" stroke-width="0.8"/>
<polygon points="550.72,432.18 554.32,436.33 550.72,440.48 547.12,436.33" fill="#00b050" stroke="#111" stroke-width="0.8"/>
<polygon points="557.52,413.11 561.12,417.26 557.52,421.41 553.92,417.26" fill="#00b050" stroke="#111" stroke-width="0.8"/>
<polygon points="564.32,447.28 567.92,451.43 564.32,455.58 560.72,451.43" fill="#00b050" stroke="#111" stroke-width="0.8"/>
<polygon points="571.13,484.24 574.73,488.39 571.13,492.54 567.53,488.39" fill="#00b050" stroke="#111" stroke-width="0.8"/>
<polygon points="577.93,478.68 581.53,482.83 577.93,486.98 574.33,482.83" fill="#00b050" stroke="#111" stroke-width="0.8"/>
<polygon points="584.74,489.21 588.34,493.36 584.74,497.51 581.14,493.36" fill="#00b050" stroke="#111" stroke-width="0.8"/>
<polygon points="591.54,450.46 595.14,454.61 591.54,458.76 587.94,454.61" fill="#00b050" stroke="#111" stroke-width="0.8"/>
<polygon points="598.35,500.33 601.95,504.48 598.35,508.63 594.75,504.48" fill="#00b050" stroke="#111" stroke-width="0.8"/>
<polygon points="605.15,357.67 608.75,361.82 605.15,365.97 601.55,361.82" fill="#00b050" stroke="#111" stroke-width="0.8"/>
<polygon points="611.96,447.28 615.56,451.43 611.96,455.58 608.36,451.43" fill="#00b050" stroke="#111" stroke-width="0.8"/>
<polygon points="618.76,398 622.36,402.15 618.76,406.3 615.16,402.15" fill="#00b050" stroke="#111" stroke-width="0.8"/>
<polygon points="625.56,443.31 629.16,447.46 625.56,451.61 621.96,447.46" fill="#00b050" stroke="#111" stroke-width="0.8"/>
<polygon points="632.37,376.74 635.97,380.89 632.37,385.04 628.77,380.89" fill="#00b050" stroke="#111" stroke-width="0.8"/>
<polygon points="639.17,415.69 642.77,419.84 639.17,423.99 635.57,419.84" fill="#00b050" stroke="#111" stroke-width="0.8"/>
<polygon points="645.98,384.89 649.58,389.04 645.98,393.19 642.38,389.04" fill="#00b050" stroke="#111" stroke-width="0.8"/>
<polygon points="652.78,342.57 656.38,346.72 652.78,350.87 649.18,346.72" fill="#00b050" stroke="#111" stroke-width="0.8"/>
<polygon points="659.59,423.24 663.19,427.39 659.59,431.54 655.99,427.39" fill="#00b050" stroke="#111" stroke-width="0.8"/>
<polygon points="666.39,489.8 669.99,493.95 666.39,498.1 662.79,493.95" fill="#00b050" stroke="#111" stroke-width="0.8"/>
<polygon points="673.2,372.77 676.8,376.92 673.2,381.07 669.6,376.92" fill="#00b050" stroke="#111" stroke-width="0.8"/>
<polygon points="680,359.26 683.6,363.41 680,367.56 676.4,363.41" fill="#00b050" stroke="#111" stroke-width="0.8"/>
<text transform="translate(366,337.6) scale(1,1.2)" font-size="9" text-anchor="end" style="font-family:'Liberation Serif',serif;font-weight:bold">0.8</text>
<text transform="translate(366,357.47) scale(1,1.2)" font-size="9" text-anchor="end" style="font-family:'Liberation Serif',serif;font-weight:bold">0.7</text>
<text transform="translate(366,377.34) scale(1,1.2)" font-size="9" text-anchor="end" style="font-family:'Liberation Serif',serif;font-weight:bold">0.6</text>
<text transform="translate(366,397.21) scale(1,1.2)" font-size="9" text-anchor="end" style="font-family:'Liberation Serif',serif;font-weight:bold">0.5</text>
<text transform="translate(366,417.08) scale(1,1.2)" font-size="9" text-anchor="end" style="font-family:'Liberation Serif',serif;font-weight:bold">0.4</text>
<text transform="translate(366,436.95) scale(1,1.2)" font-size="9" text-anchor="end" style="font-family:'Liberation Serif',serif;font-weight:bold">0.3</text>
<text transform="translate(366,456.82) scale(1,1.2)" font-size="9" text-anchor="end" style="font-family:'Liberation Serif',serif;font-weight:bold">0.2</text>
<text transform="translate(366,476.69) scale(1,1.2)" font-size="9" text-anchor="end" style="font-family:'Liberation Serif',serif;font-weight:bold">0.1</text>
<text transform="translate(366,496.56) scale(1,1.2)" font-size="9" text-anchor="end" style="font-family:'Liberation Serif',serif;font-weight:bold">0</text>
<text transform="translate(366,516.43) scale(1,1.2)" font-size="9" text-anchor="end" style="font-family:'Liberation Serif',serif;font-weight:bold">-0.1</text>
<text transform="translate(366,536.3) scale(1,1.2)" font-size="9" text-anchor="end" style="font-family:'Liberation Serif',serif;font-weight:bold">-0.2</text>
<text transform="translate(373.8,509.8) scale(1,1.2)" font-size="9" text-anchor="middle" style="font-family:'Liberation Serif',serif;font-weight:bold">0</text>
<text transform="translate(407.82,509.8) scale(1,1.2)" font-size="9" text-anchor="middle" style="font-family:'Liberation Serif',serif;font-weight:bold">5</text>
<text transform="translate(441.84,509.8) scale(1,1.2)" font-size="9" text-anchor="middle" style="font-family:'Liberation Serif',serif;font-weight:bold">10</text>
<text transform="translate(475.87,509.8) scale(1,1.2)" font-size="9" text-anchor="middle" style="font-family:'Liberation Serif',serif;font-weight:bold">15</text>
<text transform="translate(509.89,509.8) scale(1,1.2)" font-size="9" text-anchor="middle" style="font-family:'Liberation Serif',serif;font-weight:bold">20</text>
<text transform="translate(543.91,509.8) scale(1,1.2)" font-size="9" text-anchor="middle" style="font-family:'Liberation Serif',serif;font-weight:bold">25</text>
<text transform="translate(577.93,509.8) scale(1,1.2)" font-size="9" text-anchor="middle" style="font-family:'Liberation Serif',serif;font-weight:bold">30</text>
<text transform="translate(611.96,509.8) scale(1,1.2)" font-size="9" text-anchor="middle" style="font-family:'Liberation Serif',serif;font-weight:bold">35</text>
<text transform="translate(645.98,509.8) scale(1,1.2)" font-size="9" text-anchor="middle" style="font-family:'Liberation Serif',serif;font-weight:bold">40</text>
<text transform="translate(680,509.8) scale(1,1.2)" font-size="9" text-anchor="middle" style="font-family:'Liberation Serif',serif;font-weight:bold">45</text>
<text transform="translate(348.2,433.3) rotate(-90) scale(1.25,1)" font-size="9" text-anchor="middle" style="font-family:'Liberation Serif',serif;font-weight:bold">CAI (II)</text>
<text transform="translate(527,544.4) scale(1,1.2)" font-size="9" text-anchor="middle" style="font-family:'Liberation Serif',serif;font-weight:bold">Samples</text>
<text x="654" y="320" font-size="17.5" text-anchor="middle" style="font-family:'Liberation Sans',sans-serif;font-weight:bold">(b)</text>
</svg>
</body></html>
